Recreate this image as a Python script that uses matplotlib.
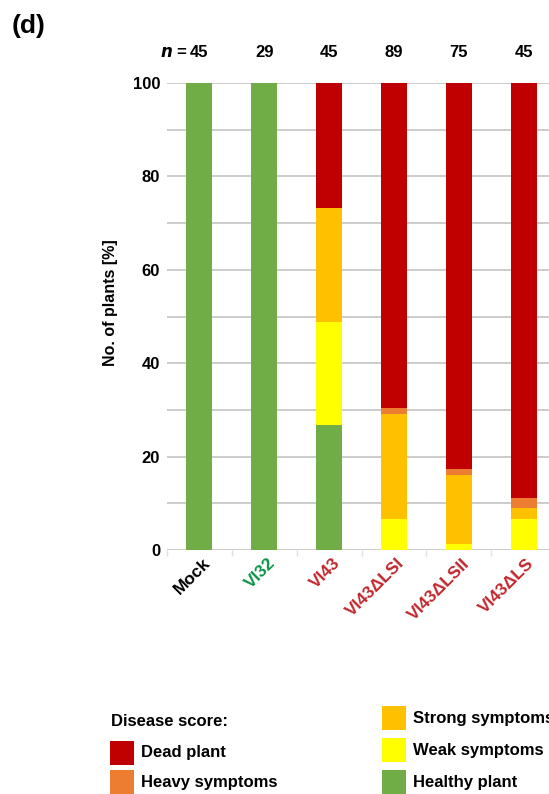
import matplotlib
matplotlib.use("Agg")
import matplotlib.pyplot as plt
from matplotlib.patches import Rectangle
from matplotlib.transforms import ScaledTranslation
import numpy as np

plt.rcParams['font.family'] = ['Liberation Sans', 'DejaVu Sans']
plt.rcParams['font.weight'] = 'bold'

# Strains and number of plants scored
strains = ["Mock", "VI32", "VI43", "VI43\u0394LSI", "VI43\u0394LSII", "VI43\u0394LS"]
n_plants = [45, 29, 45, 89, 75, 45]
label_colors = ["#000000", "#0A9447", "#C1272D", "#C1272D", "#C1272D", "#C1272D"]

# Share of plants per disease score [%], stacked bottom to top
healthy = [100.0, 100.0, 26.7, 0.0, 0.0, 0.0]
weak = [0.0, 0.0, 22.2, 6.7, 1.3, 6.7]
strong = [0.0, 0.0, 24.4, 22.5, 14.7, 2.2]
heavy = [0.0, 0.0, 0.0, 1.1, 1.3, 2.2]
dead = [0.0, 0.0, 26.7, 69.7, 82.7, 88.9]

score_names = ["Healthy plant", "Weak symptoms", "Strong symptoms", "Heavy symptoms", "Dead plant"]
score_colors = ["#70AD47", "#FFFF00", "#FFC000", "#ED7D31", "#C00000"]
yticks = [0, 20, 40, 60, 80, 100]

W, H = 549, 794
fig = plt.figure(figsize=(W / 100, H / 100), dpi=100)

def fx(px):
    return px / W

def fy(py):
    return 1 - py / H

ax_left, ax_right, ax_top, ax_bottom = 167, 556, 83, 550
ax = fig.add_axes([fx(ax_left), fy(ax_bottom), (ax_right - ax_left) / W, (ax_bottom - ax_top) / H])

x = np.arange(len(strains))
bottom = np.zeros(len(strains))
for vals, col in zip([healthy, weak, strong, heavy, dead], score_colors):
    ax.bar(x, vals, width=0.4, bottom=bottom, color=col, edgecolor='none', zorder=3)
    bottom += np.array(vals)

ax.set_xlim(-0.474, 5.474)
ax.set_ylim(0, 100)
ax.set_yticks(yticks)
ax.set_yticks(np.arange(0, 101, 10), minor=True)
ax.grid(axis='y', which='both', color='#BEBEBE', linewidth=1.1, zorder=0)
ax.tick_params(axis='y', which='both', length=0, pad=5, labelsize=12)
for t in ax.get_yticklabels():
    t.set_fontweight('bold')

for s in ax.spines.values():
    s.set_visible(False)

# category labels
ax.set_xticks(x)
ax.set_xticklabels(strains, rotation=45, ha='right', va='top', rotation_mode='anchor', fontsize=12.5)
ax.set_xticks(np.arange(-0.5, 6, 1), minor=True)
ax.tick_params(axis='x', which='major', length=0, pad=4)
ax.tick_params(axis='x', which='minor', length=4, color='#E0E0E0', width=1)
shift = ScaledTranslation(3 / 100, 0, fig.dpi_scale_trans)
for t, c in zip(ax.get_xticklabels(), label_colors):
    t.set_color(c)
    t.set_fontweight('bold')
    t.set_transform(t.get_transform() + shift)

# plant counts above the bars
for i, n in enumerate(n_plants):
    ax.annotate(str(n), xy=(i, 100), xytext=(0, 22), textcoords='offset points',
                ha='center', va='center', fontsize=12, fontweight='bold', annotation_clip=False)
ax.annotate("$\\mathbf{\\it{n}}$ = ", xy=(0, 100), xytext=(-8, 22), textcoords='offset points',
            ha='right', va='center', fontsize=12, fontweight='bold', annotation_clip=False)

fig.text(fx(111), fy(303), "No. of plants [%]", rotation=90, ha='center', va='center',
         fontsize=11.5, fontweight='bold')
fig.text(fx(12), fy(26), "(d)", ha='left', va='center', fontsize=19, fontweight='bold')

# legend
fig.text(fx(111), fy(722), "Disease score:", ha='left', va='center', fontsize=12, fontweight='bold')
legend_items = [
    (110, 753, 4),   # Dead plant
    (110, 782, 3),   # Heavy symptoms
    (382, 718, 2),   # Strong symptoms
    (382, 750, 1),   # Weak symptoms
    (382, 782, 0),   # Healthy plant
]
box = 23.5
for lx, ly, k in legend_items:
    fig.add_artist(Rectangle((fx(lx), fy(ly + box / 2)), box / W, box / H,
                             transform=fig.transFigure, facecolor=score_colors[k], edgecolor='none'))
    fig.text(fx(lx + 31), fy(ly), score_names[k], ha='left', va='center', fontsize=12, fontweight='bold')

fig.savefig("out.png", dpi=100)
